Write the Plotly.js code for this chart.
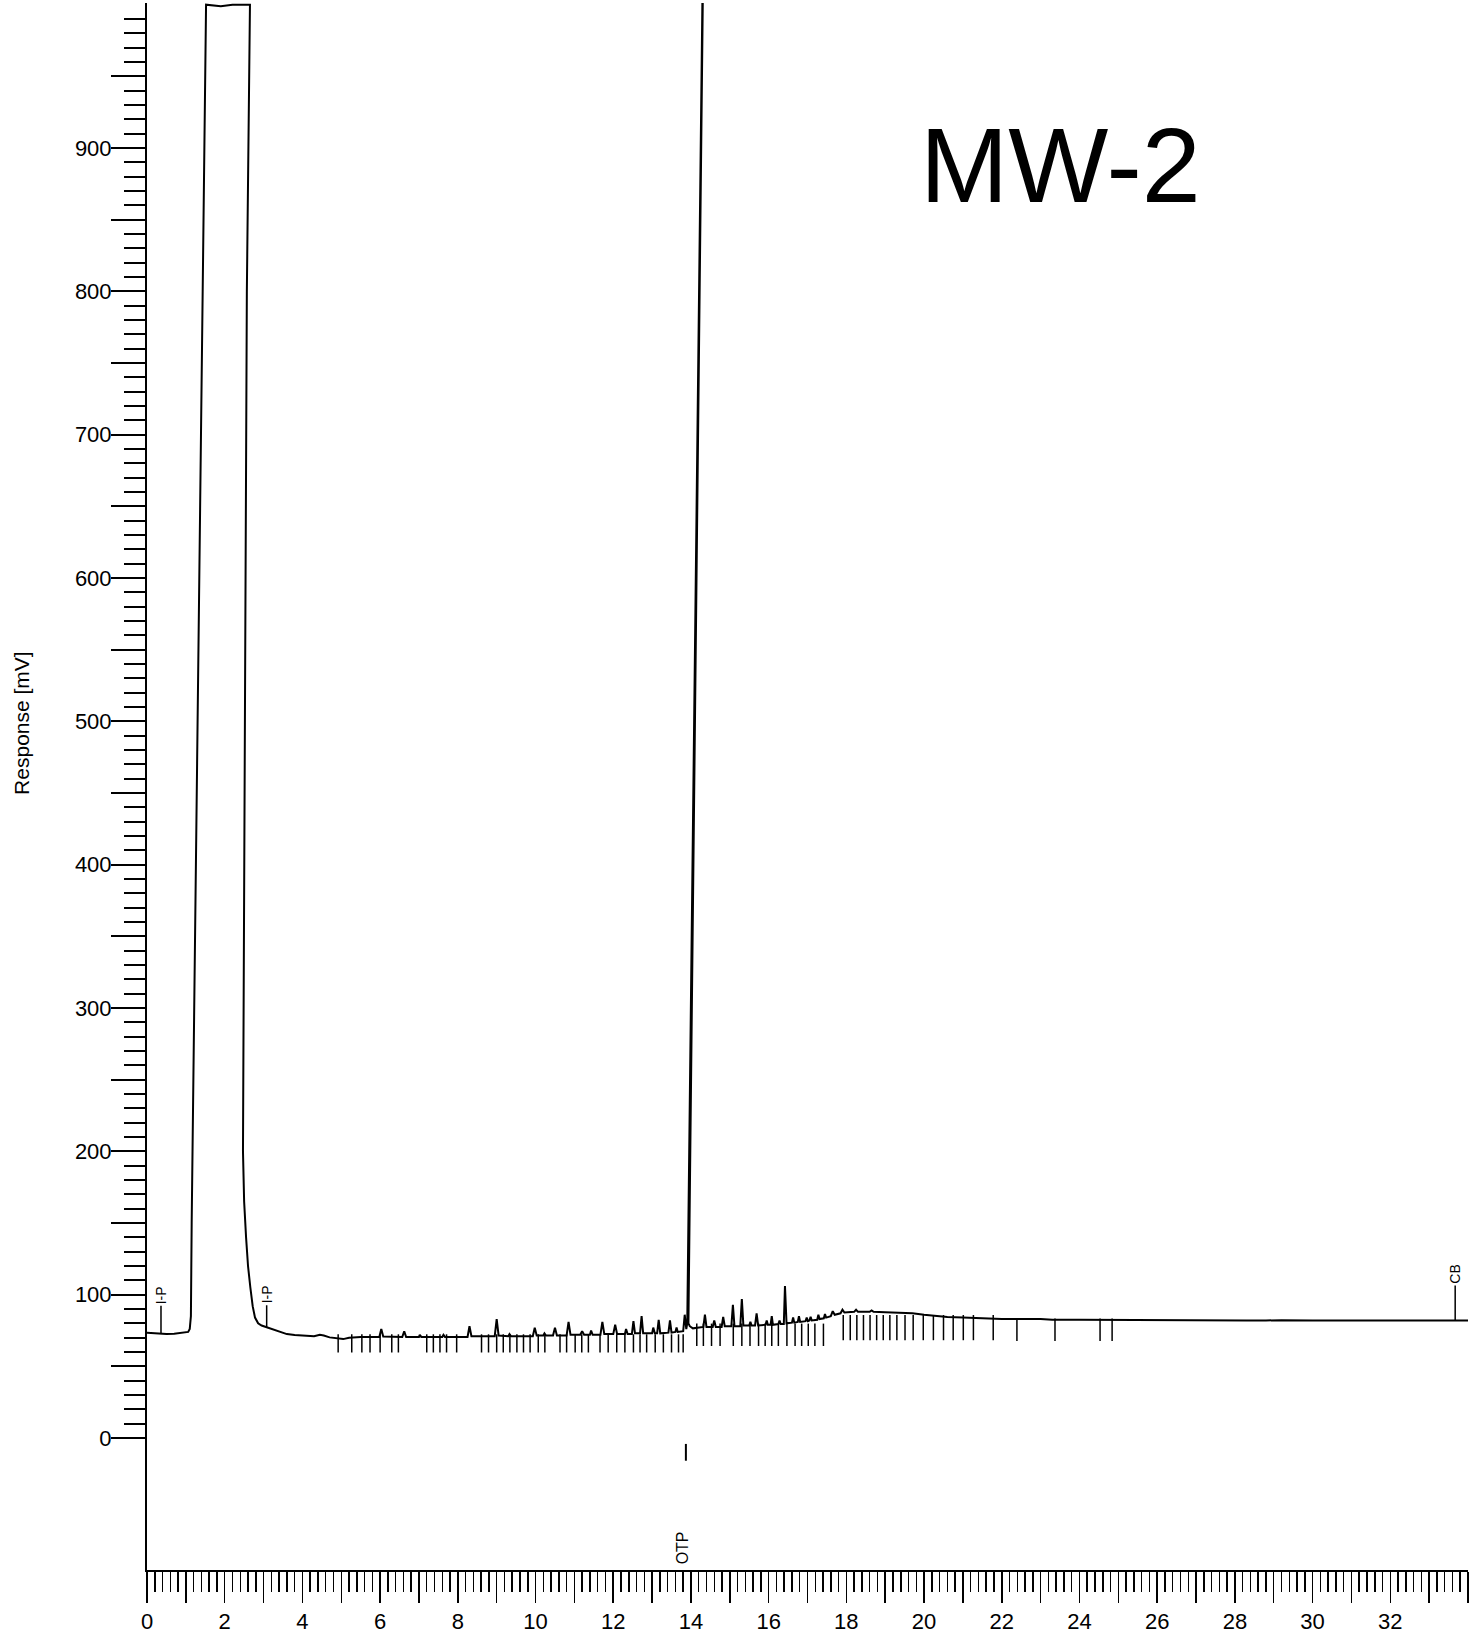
<!DOCTYPE html>
<html>
<head>
<meta charset="utf-8">
<script src="https://cdn.plot.ly/plotly-3.0.1.min.js"></script>
<style>
  html, body { margin: 0; padding: 0; background: #ffffff; }
  #chart { width: 1481px; height: 1637px; }
</style>
</head>
<body>
<div id="chart"></div>
<script>
// ---------- DATA (against the bottom time scale) ----------
// Segment 1: start, solvent peak (clipped at ~1000 mV) and its tail
const timeSolvent = [0, 0.3, 0.5, 0.7, 0.9, 1.06, 1.10, 1.13, 1.15, 1.30, 1.45, 1.52, 1.9, 2.2, 2.65, 2.57, 2.47, 2.50, 2.55, 2.60, 2.66, 2.72, 2.78, 2.86, 2.95, 3.1, 3.3, 3.6, 3.8, 4.0];
const respSolvent = [73.5, 73, 72.5, 72.8, 73.2, 74, 76, 85, 150, 500, 850, 1000, 999, 1000, 1000, 800, 200, 165, 140, 120, 105, 92, 84, 80, 78.5, 77, 75, 72.5, 71.8, 71.5];

// Segment 2: baseline with small peaks up to the OTP peak (the OTP peak runs off scale)
const timeMid = [4.3, 4.45, 4.55, 4.7, 4.9, 5.05, 5.2, 5.5, 5.98, 6.03, 6.08, 6.57, 6.62, 6.67, 7.0, 7.02, 7.06, 7.6, 7.63, 7.67, 8.25, 8.3, 8.35, 8.95, 9.0, 9.05, 9.3, 9.33, 9.37, 9.93, 9.98, 10.03, 10.2, 10.23, 10.27, 10.45, 10.5, 10.55, 10.8, 10.85, 10.9, 11.15, 11.2, 11.25, 11.4, 11.43, 11.47, 11.67, 11.72, 11.77, 12.0, 12.05, 12.1, 12.3, 12.33, 12.37, 12.48, 12.52, 12.56, 12.69, 12.73, 12.77, 13.0, 13.03, 13.07, 13.13, 13.17, 13.21, 13.42, 13.46, 13.5, 13.6, 13.63, 13.66, 13.8, 13.84, 13.88, 13.905, 14.295, 14.305, 13.935, 13.97];
const respMid = [71, 72, 71.5, 70.2, 69.5, 69, 70, 70.5, 70.5, 76, 70.8, 70.5, 74.5, 70.5, 70.5, 72, 70.5, 70.5, 72, 70.5, 70.5, 78, 71, 71, 83, 71.5, 71, 72.5, 71, 71, 77, 71.5, 71.5, 73, 71.5, 71.5, 77, 71.5, 71.5, 81, 72, 72, 74.5, 72, 72, 75, 72, 72, 81, 72.5, 72.5, 79, 72.5, 72.5, 76, 72.5, 72.5, 81.5, 73, 73, 85, 73, 73, 77, 73, 73, 82.5, 73, 73.5, 82, 73.5, 74, 77, 74, 74.5, 86, 76, 80, 1003, 1003, 80, 78];

// Segment 3: after OTP, hump and late flat baseline
const timeLate = [14.05, 14.2, 14.32, 14.36, 14.4, 14.56, 14.6, 14.64, 14.79, 14.83, 14.87, 15.04, 15.08, 15.12, 15.27, 15.31, 15.35, 15.5, 15.53, 15.56, 15.65, 15.69, 15.73, 15.92, 15.95, 15.98, 16.05, 16.08, 16.11, 16.25, 16.28, 16.31, 16.39, 16.42, 16.46, 16.6, 16.63, 16.66, 16.75, 16.78, 16.81, 16.95, 16.98, 17.01, 17.05, 17.08, 17.11, 17.25, 17.28, 17.31, 17.42, 17.45, 17.48, 17.6, 17.65, 17.7, 17.85, 17.9, 17.95, 18.2, 18.25, 18.3, 18.6, 18.65, 18.7, 19.0, 19.5, 19.7, 20.0, 20.3, 20.6, 21.0, 21.5, 22.0, 23.0, 23.3, 24.0, 25.0, 26.0, 27.8, 28.0, 28.3, 28.8, 29.2, 30.0, 32.0, 34.0];
const respLate = [76.5, 77, 77.5, 86, 77.5, 77.5, 82, 77.5, 77.5, 84.5, 78, 78, 93, 78, 78, 97, 78.5, 78.5, 81, 78.5, 78.5, 87, 78.5, 79, 82, 79, 79, 85, 79, 79.5, 82, 79.5, 79.5, 106, 80, 80.5, 84, 80.5, 81, 85, 81, 81.5, 84, 81.5, 82, 84.5, 82, 82.5, 86, 83, 83.5, 86.5, 84, 85, 88.5, 86, 87, 89.5, 87.5, 88, 89.5, 88, 88, 89, 88, 87.8, 87.5, 87, 86, 85, 84.5, 84, 83.5, 83, 83, 82.5, 82.5, 82.3, 82, 82, 81.7, 82, 82, 82.2, 82, 82, 82];

// Integration tick marks below the baseline (retention times, min), by region
const marksEarly = [4.92, 5.27, 5.53, 5.74, 6.0, 6.3, 6.47, 7.2, 7.37, 7.54, 7.71, 7.97, 8.61, 8.79, 9.0, 9.17, 9.34, 9.52, 9.69, 9.86, 10.07, 10.24, 10.63, 10.8, 11.02, 11.19, 11.36, 11.66, 11.87, 12.09, 12.3, 12.52, 12.69, 12.86, 13.08, 13.29, 13.5, 13.68, 13.8];
const marksMid = [14.15, 14.32, 14.53, 14.75, 15.09, 15.31, 15.52, 15.74, 15.91, 16.08, 16.25, 16.47, 16.68, 16.85, 17.02, 17.19, 17.41];
const marksLate = [17.92, 18.1, 18.27, 18.44, 18.61, 18.78, 18.95, 19.12, 19.3, 19.51, 19.72, 19.98, 20.24, 20.5, 20.75, 21.01, 21.27, 21.78];
const marksEnd = [22.39, 23.37, 24.53, 24.84];
const markLevelEarly = 66, markLevelMid = 72, markLevelLate = 77, markLevelEnd = 75.5;

// Axis ticks
const xMajorTicks = []; for (let t = 0; t <= 34; t++) xMajorTicks.push(t);
const xTickText = xMajorTicks.map(t => (t % 2 === 0 && t <= 32) ? String(t) : '');
const yMajorTicks = []; for (let v = 0; v <= 950; v += 50) yMajorTicks.push(v);
const yTickText = yMajorTicks.map(v => v % 100 === 0 ? String(v) : '');
const yMinorTicks = []; for (let v = 10; v <= 990; v += 10) if (v % 50 !== 0) yMinorTicks.push(v);

// Peak labels
const peakLabels = [
  {name: 'I-P', t: 0.36, base: 73, off: -38},
  {name: 'I-P', t: 3.08, base: 77, off: -33},
  {name: 'CB', t: 33.67, base: 82, off: -46}
];
const otpLabel = {name: 'OTP', t: 13.77, v: -77};
const sampleName = 'MW-2';
const yTitle = 'Response [mV]';

// ---------- CHART ----------
const black = '#000000';
const font = 'Liberation Sans, Arial, sans-serif';

const traces = [
  {
    x: timeSolvent.concat(timeMid, timeLate),
    y: respSolvent.concat(respMid, respLate),
    type: 'scatter', mode: 'lines',
    line: {color: black, width: 2},
    hoverinfo: 'skip'
  }
];
[[marksEarly, markLevelEarly, 13], [marksMid, markLevelMid, 16], [marksLate, markLevelLate, 18], [marksEnd, markLevelEnd, 16]].forEach(([ts, lvl, sz]) => {
  traces.push({
    x: ts, y: ts.map(() => lvl),
    type: 'scatter', mode: 'markers',
    marker: {symbol: 'line-ns', size: sz, color: black, line: {color: black, width: 1.5}},
    hoverinfo: 'skip'
  });
});
traces.push({
  x: [otpLabel.t + 0.1], y: [-10],
  type: 'scatter', mode: 'markers',
  marker: {symbol: 'line-ns', size: 12, color: black, line: {color: black, width: 2}},
  hoverinfo: 'skip'
});

const annotations = peakLabels.map(p => ({
  x: p.t, y: p.base, xref: 'x', yref: 'y',
  text: p.name, textangle: -90, showarrow: true, arrowhead: 0, arrowwidth: 1.5,
  arrowcolor: black, ax: 0, ay: p.off, standoff: 0,
  font: {family: font, size: 14, color: black}
}));
annotations.push({
  x: otpLabel.t, y: otpLabel.v, xref: 'x', yref: 'y', text: otpLabel.name,
  textangle: -90, showarrow: false, font: {family: font, size: 16, color: black}
});
annotations.push({
  x: 23.5, y: 888, xref: 'x', yref: 'y', text: sampleName, showarrow: false,
  font: {family: 'Liberation Sans Narrow, Liberation Sans, sans-serif', size: 106, color: black}
});
// y-axis title, placed where the reference shows it
annotations.push({
  x: -0.0955, y: 0.5405, xref: 'paper', yref: 'paper', xanchor: 'center', yanchor: 'middle',
  text: yTitle, textangle: -90, showarrow: false,
  font: {family: font, size: 21, color: black}
});

const layout = {
  width: 1481, height: 1637,
  margin: {l: 147, r: 13, t: 3, b: 67, pad: 0},
  paper_bgcolor: '#ffffff', plot_bgcolor: '#ffffff',
  showlegend: false,
  font: {family: font, color: black},
  xaxis: {
    range: [0, 34], showgrid: false, zeroline: false,
    showline: true, linecolor: black, linewidth: 2, mirror: false,
    tickmode: 'array', tickvals: xMajorTicks, ticktext: xTickText,
    ticks: 'outside', ticklen: 31, tickwidth: 1.5, tickcolor: black,
    tickfont: {family: font, size: 22, color: black},
    minor: {dtick: 0.2, tick0: 0, ticks: 'outside', ticklen: 20, tickwidth: 1.5, tickcolor: black, showgrid: false}
  },
  yaxis: {
    range: [-92.1, 1001.2], showgrid: false, zeroline: false,
    showline: true, linecolor: black, linewidth: 2, mirror: false,
    tickmode: 'array', tickvals: yMajorTicks, ticktext: yTickText,
    ticks: 'outside', ticklen: 34, tickwidth: 2, tickcolor: black,
    ticklabelstandoff: -5,
    tickfont: {family: font, size: 22, color: black},
    minor: {tickmode: 'array', tickvals: yMinorTicks, ticks: 'outside', ticklen: 21, tickwidth: 2, tickcolor: black, showgrid: false}
  },
  annotations: annotations
};

Plotly.newPlot('chart', traces, layout, {staticPlot: true, displayModeBar: false});
</script>
</body>
</html>
